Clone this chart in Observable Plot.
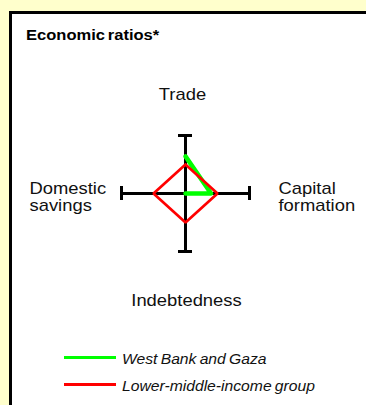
<!DOCTYPE html>
<html>
<head>
<meta charset="utf-8">
<script src="https://cdn.jsdelivr.net/npm/d3@7"></script>
<script src="https://cdn.jsdelivr.net/npm/@observablehq/plot@0.6"></script>
<style>
  html, body { margin: 0; padding: 0; width: 366px; height: 405px; overflow: hidden; background: #FFFFCC; font-family: "Liberation Sans", Arial, sans-serif; }
  #frame { position: absolute; left: 9px; top: 11px; right: -5px; bottom: -5px; background: #fff; border-left: 3px solid #000; border-top: 3px solid #000; }
  #title { position: absolute; left: 26px; top: 28px; font-weight: bold; font-size: 14px; line-height: 14px; white-space: nowrap; transform: scaleX(1.18); transform-origin: left center; word-spacing: -1.5px; color: #000; }
  #chart { position: absolute; left: 0; top: 0; }
  .legend-row { position: absolute; left: 0; height: 14px; width: 366px; }
  .legend-swatch { position: absolute; left: 64px; top: 4px; width: 52px; height: 3px; }
  .legend-label { position: absolute; left: 122px; top: 0; font-style: italic; font-size: 14px; line-height: 14px; white-space: nowrap; transform: scaleX(1.12); transform-origin: left center; word-spacing: -1px; color: #111; }
</style>
</head>
<body>
<div id="frame"></div>
<div id="title">Economic ratios*</div>
<div id="chart"></div>
<div id="legend"></div>
<script>
// ---- data ----
const chartTitle = "Economic ratios*";
const axisNames = ["Trade", "Capital\nformation", "Indebtedness", "Domestic\nsavings"];
const seriesNames = ["West Bank and Gaza", "Lower-middle-income group"];
const seriesColors = ["#00FF00", "#FF0000"];
// values per axis, in order: Trade, Capital formation, Indebtedness, Domestic savings
const westBankGaza = [0.64, 0.40, 0, null];
const lowerMiddleIncome = [0.5, 0.5, 0.5, 0.5];
const axisMax = 1;

// ---- build geometry from the data ----
const angleOf = i => i * Math.PI / 2;
function toPoints(values, close) {
  const p = values.map((v, i) => ({
    axis: axisNames[i],
    x: v == null ? NaN : v * Math.sin(angleOf(i)),
    y: v == null ? NaN : v * Math.cos(angleOf(i))
  }));
  if (close) p.push(p[0]);
  return p;
}
const axisEnds = axisNames.map((name, i) => ({
  name,
  x: axisMax * Math.round(Math.sin(angleOf(i))),
  y: axisMax * Math.round(Math.cos(angleOf(i)))
}));

const W = 366, H = 405;
const mL = 121, mR = 117, mT = 135, mB = 154;
const pxX = (W - mL - mR) / (2 * axisMax);
const pxY = (H - mT - mB) / (2 * axisMax);
const cap = 7; // half-length of axis end caps, px
const capX = cap / pxX, capY = cap / pxY;

const font = '"Liberation Sans", Arial, sans-serif';

const plot = Plot.plot({
  width: W,
  height: H,
  marginLeft: mL,
  marginRight: mR,
  marginTop: mT,
  marginBottom: mB,
  x: { domain: [-axisMax, axisMax], axis: null },
  y: { domain: [-axisMax, axisMax], axis: null },
  style: { background: "transparent", overflow: "visible", fontFamily: font, color: "#111" },
  marks: [
    // axes
    Plot.ruleY([0], { x1: -axisMax, x2: axisMax, stroke: "#000", strokeWidth: 3 }),
    Plot.ruleX([0], { y1: -axisMax, y2: axisMax, stroke: "#000", strokeWidth: 3 }),
    // end caps on horizontal axis
    Plot.ruleX(axisEnds.filter(d => d.y === 0), { x: "x", y1: d => -capY, y2: d => capY, stroke: "#000", strokeWidth: 3 }),
    // end caps on vertical axis
    Plot.ruleY(axisEnds.filter(d => d.x === 0), { y: "y", x1: d => -capX, x2: d => capX, stroke: "#000", strokeWidth: 3 }),
    // series
    Plot.line(toPoints(westBankGaza, false), { x: "x", y: "y", stroke: seriesColors[0], strokeWidth: 4.5, strokeLinejoin: "round", strokeLinecap: "round" }),
    Plot.line(toPoints(lowerMiddleIncome, true), { x: "x", y: "y", stroke: seriesColors[1], strokeWidth: 2.7, strokeLinejoin: "miter" }),
    // axis labels
    Plot.text([axisEnds[0]], { x: "x", y: "y", text: "name", fontSize: 16, textAnchor: "middle", dx: -3, dy: -41, fill: "#111" }),
    Plot.text([axisEnds[1]], { x: "x", y: "y", text: "name", fontSize: 16, textAnchor: "start", lineHeight: 1.0625, dx: 29, dy: 3.4, fill: "#111" }),
    Plot.text([axisEnds[2]], { x: "x", y: "y", text: "name", fontSize: 16, textAnchor: "middle", dx: 1, dy: 49, fill: "#111" }),
    Plot.text([axisEnds[3]], { x: "x", y: "y", text: "name", fontSize: 16, textAnchor: "start", lineHeight: 1.0625, dx: -92, dy: 3.4, fill: "#111" })
  ]
});

// slightly widen the label glyphs like the reference
plot.querySelectorAll('g[aria-label="text"] text').forEach(t => {
  const tr = t.getAttribute("transform") || "";
  t.setAttribute("transform", tr + " scale(1.15,1)");
});

document.getElementById("chart").appendChild(plot);
document.getElementById("title").textContent = chartTitle;

// ---- legend ----
const legend = document.getElementById("legend");
seriesNames.forEach((name, i) => {
  const row = document.createElement("div");
  row.className = "legend-row";
  row.style.top = (351.6 + i * 27.5) + "px";
  const sw = document.createElement("div");
  sw.className = "legend-swatch";
  sw.style.background = seriesColors[i];
  const lab = document.createElement("div");
  lab.className = "legend-label";
  lab.textContent = name;
  row.appendChild(sw);
  row.appendChild(lab);
  legend.appendChild(row);
});
</script>
</body>
</html>
